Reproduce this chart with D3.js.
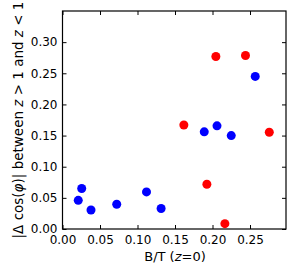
<!DOCTYPE html>
<html>
<head>
<meta charset="utf-8">
<script src="https://cdn.jsdelivr.net/npm/d3@7"></script>
<style>
  body { margin: 0; background: #fff; }
  svg text { font-family: "DejaVu Sans", sans-serif; }
</style>
</head>
<body>
<svg id="plot" width="300" height="273"></svg>
<script>
// B/T (z=0) and |delta cos(phi)| values
const blueX = [0.021, 0.0256, 0.038, 0.0723, 0.112, 0.1315, 0.189, 0.206, 0.225, 0.257];
const blueY = [0.046, 0.065, 0.0305, 0.0397, 0.0595, 0.033, 0.156, 0.1656, 0.150, 0.245];
const redX = [0.1618, 0.2045, 0.244, 0.2757, 0.1925, 0.2165];
const redY = [0.167, 0.277, 0.2786, 0.1554, 0.0718, 0.0086];

const xTicks = [0, 0.05, 0.10, 0.15, 0.20, 0.25];
const yTicks = [0, 0.05, 0.10, 0.15, 0.20, 0.25, 0.30];

const margin = { top: 11, right: 14, bottom: 44, left: 62.5 };
const width = 300 - margin.left - margin.right;
const height = 273 - margin.top - margin.bottom;

const svg = d3.select('svg#plot');
const g = svg.append('g').attr('transform', `translate(${margin.left},${margin.top})`);

const x = d3.scaleLinear().domain([0, 0.298]).range([0, width]);
const y = d3.scaleLinear().domain([0, 0.35]).range([height, 0]);

const fmt = d3.format('.2f');
const tickLen = 4;

// bottom / top axes, ticks pointing inwards
g.append('g')
  .attr('transform', `translate(0,${height})`)
  .call(d3.axisBottom(x).tickValues(xTicks).tickFormat(fmt).tickSize(-tickLen).tickPadding(6));
g.append('g')
  .call(d3.axisTop(x).tickValues(xTicks).tickFormat('').tickSize(-tickLen));

g.append('g')
  .call(d3.axisLeft(y).tickValues(yTicks).tickFormat(fmt).tickSize(-tickLen).tickPadding(5));
g.append('g')
  .attr('transform', `translate(${width},0)`)
  .call(d3.axisRight(y).tickValues(yTicks).tickFormat('').tickSize(-tickLen));

g.selectAll('.domain').remove();
g.selectAll('.tick line').attr('stroke', '#000').attr('stroke-width', 1);
g.selectAll('.tick text').attr('fill', '#000').style('font-size', '12px');

// frame
g.append('rect')
  .attr('width', width)
  .attr('height', height)
  .attr('fill', 'none')
  .attr('stroke', '#000')
  .attr('stroke-width', 1.2);

// points
const blue = blueX.map((v, i) => ({ x: v, y: blueY[i] }));
const red = redX.map((v, i) => ({ x: v, y: redY[i] }));

g.selectAll('circle.blue')
  .data(blue)
  .join('circle')
  .attr('class', 'blue')
  .attr('cx', (d) => x(d.x))
  .attr('cy', (d) => y(d.y))
  .attr('r', 4.5)
  .attr('fill', '#0000ff');

g.selectAll('circle.red')
  .data(red)
  .join('circle')
  .attr('class', 'red')
  .attr('cx', (d) => x(d.x))
  .attr('cy', (d) => y(d.y))
  .attr('r', 4.5)
  .attr('fill', '#ff0000');

// axis labels
const xLabel = svg.append('text')
  .attr('x', margin.left + x(0.15))
  .attr('y', 261)
  .attr('text-anchor', 'middle')
  .style('font-size', '13px');
xLabel.append('tspan').text('B/T (');
xLabel.append('tspan').attr('font-style', 'italic').text('z');
xLabel.append('tspan').text('=0)');

const yLabel = svg.append('text')
  .attr('transform', `translate(22.5,${margin.top + height / 2}) rotate(-90)`)
  .attr('text-anchor', 'middle')
  .style('font-size', '13.5px');
yLabel.append('tspan').text('|Δ cos(');
yLabel.append('tspan').attr('font-style', 'italic').text('φ');
yLabel.append('tspan').text(')| between ');
yLabel.append('tspan').attr('font-style', 'italic').text('z');
yLabel.append('tspan').text(' > 1 and ');
yLabel.append('tspan').attr('font-style', 'italic').text('z');
yLabel.append('tspan').text(' < 1');
</script>
</body>
</html>
